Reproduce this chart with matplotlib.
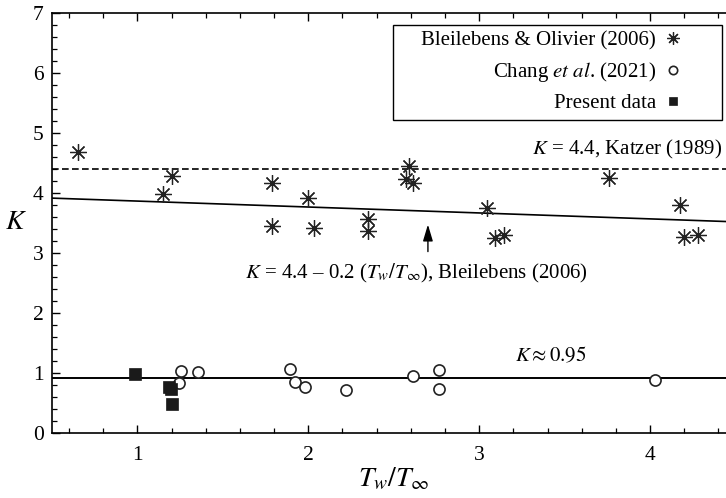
import numpy as np
import matplotlib.pyplot as plt
from matplotlib.patches import Rectangle

plt.rcParams['font.family'] = ['Liberation Serif', 'DejaVu Serif']
plt.rcParams['mathtext.fontset'] = 'stix'

# Bleilebens & Olivier (2006)
bo_x = [0.65, 1.15, 1.20, 1.79, 1.79, 2.00, 2.035, 2.347, 2.347, 2.59, 2.57, 2.61,
        3.045, 3.094, 3.146, 3.76, 4.175, 4.20, 4.28]
bo_k = [4.68, 3.98, 4.27, 4.16, 3.44, 3.91, 3.41, 3.56, 3.355, 4.44, 4.22, 4.17,
        3.745, 3.245, 3.30, 4.24, 3.80, 3.26, 3.30]

# Chang et al. (2021)
ch_x = [1.253, 1.244, 1.355, 1.895, 1.924, 1.98, 2.222, 2.61, 2.766, 2.766, 4.03]
ch_k = [1.03, 0.83, 1.01, 1.07, 0.855, 0.77, 0.71, 0.955, 1.045, 0.73, 0.88]

# present data
pr_x = [0.987, 1.185, 1.195, 1.205]
pr_k = [0.98, 0.77, 0.73, 0.48]

# reference lines
katzer_k = 4.4
fit_x = [0.5, 4.5]
fit_k = [3.91, 3.515]
mean_k = 0.92

fig = plt.figure(figsize=(7.26, 4.98), dpi=100)
ax = fig.add_axes([52/726, 1-433/498, (735.5-52)/726, (433-12.5)/498])

ax.axhline(katzer_k, color="black", ls=(0, (4, 2)), lw=1.2)
ax.plot(fit_x, fit_k, "k-", lw=1.2)
ax.axhline(mean_k, color="black", lw=1.4)

ax.plot(bo_x, bo_k, ls="none", marker=(8, 2, 0), ms=12, mew=0.9, color="#222222",
        label="Bleilebens & Olivier (2006)")
ax.plot(ch_x, ch_k, ls="none", marker="o", ms=8, mew=1.2, mfc="white", mec="#222222",
        label=r"Chang $\it{et\ al}$. (2021)")
ax.plot(pr_x, pr_k, ls="none", marker="s", ms=8, mew=0.5, color="#1a1a1a",
        label="Present data")

ax.text(4.42, 4.72, r"$K$ = 4.4, Katzer (1989)", ha="right", va="center", fontsize=15)
ax.text(1.63, 2.65, "$K$ = 4.4 \u2013 0.2 ($T_w/T_\\infty$), Bleilebens (2006)",
        ha="left", va="center", fontsize=15)
ax.text(3.42, 1.27, r"$K \approx 0.95$", ha="center", va="center", fontsize=15)
ax.annotate("", xy=(2.70, 3.47), xytext=(2.70, 3.02),
            arrowprops=dict(arrowstyle="-|>,head_length=1.0,head_width=0.3",
                            color="black", lw=1.0, mutation_scale=10,
                            shrinkA=0, shrinkB=0))

ax.set_xlim(0.5, 4.5)
ax.set_ylim(0, 7)
ax.set_xticks([1, 2, 3, 4])
ax.set_yticks(range(8))
ax.set_xticks(np.arange(0.6, 4.5, 0.2), minor=True)
ax.set_yticks(np.arange(0, 7.01, 0.2), minor=True)
ax.tick_params(which="both", direction="in", top=True, right=False, labelsize=15.5)
ax.tick_params(which="major", length=6, width=1.0)
ax.tick_params(which="minor", length=3.5, width=0.9)
ax.tick_params(axis="x", pad=9)
ax.tick_params(axis="y", pad=6)
for s in ["left", "bottom", "top"]:
    ax.spines[s].set_linewidth(1.2)
ax.spines["right"].set_visible(False)

ax.set_xlabel(r"$T_w/T_\infty$", fontsize=20, labelpad=1)
ax.set_ylabel(r"$K$", fontsize=20, rotation=0, labelpad=12, va="center")

ax.legend(loc="upper right", bbox_to_anchor=(683/726, 1-31/498),
          bbox_transform=fig.transFigure, borderpad=0, borderaxespad=0,
          frameon=False, markerfirst=False, handlelength=1.0, handletextpad=0.3,
          labelspacing=0.45, fontsize=15, markerscale=0.75)
fig.add_artist(Rectangle((393/726, 1-120/498), (722-393)/726, 95/498,
                         transform=fig.transFigure, fill=False, ec="black", lw=1.0))

plt.savefig("out.png", dpi=100)
